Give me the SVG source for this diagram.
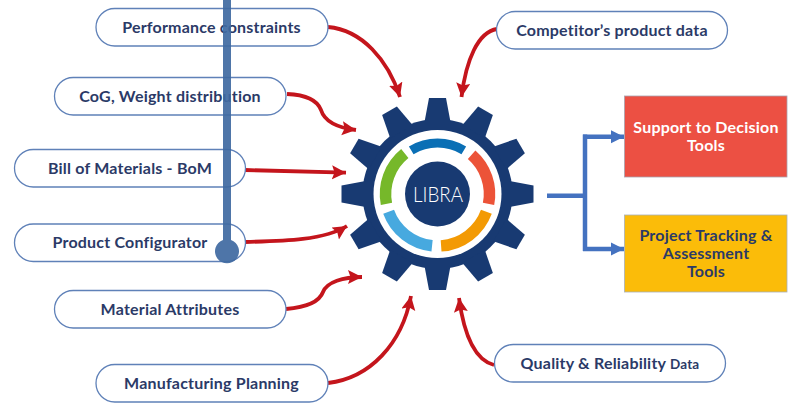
<svg xmlns="http://www.w3.org/2000/svg" width="794" height="404" viewBox="0 0 794 404">
<style>
text{font-family:"Lato","Liberation Sans",sans-serif;font-weight:700;font-size:16px;letter-spacing:.2px;fill:#2b3a67;text-anchor:middle}
.pill{fill:#fff;stroke:#5f81b8;stroke-width:1.3}
.red{fill:none;stroke:#c4151c;stroke-width:3.8;marker-end:url(#ra)}
.blue{fill:none;stroke:#4472c0;stroke-width:4.500}
</style>
<defs>
<marker id="ra" markerUnits="userSpaceOnUse" markerWidth="15" markerHeight="15" refX="14" refY="7" orient="auto"><path d="M0 0L14 7L0 14L2.500 7Z" fill="#c4151c"/></marker>
<marker id="ba" markerUnits="userSpaceOnUse" markerWidth="14" markerHeight="14" refX="13" refY="7" orient="auto"><path d="M0 0.500L13 7L0 13.500Z" fill="#4472c0"/></marker>
<polygon id="tooth" points="-13,-72 -8.500,-96 8.500,-96 13,-72" fill="#183a72"/>
</defs>
<rect width="794" height="404" fill="#fff"/>
<g id="connectors">
<path class="red" d="M328 27C362 30 388 60 400 97"/>
<path class="red" d="M287 94C310 95 318 102 321 110C325 123 340 128 356 130"/>
<path class="red" d="M245 170L346 172.700"/>
<path class="red" d="M245 242C285 241 325 240 347 226"/>
<path class="red" d="M286 309C310 307 320 300 323 292C327 282 343 277 362 277"/>
<path class="red" d="M328 383C370 378 402 344 411 296"/>
<path class="red" d="M494 365C475 360 464 335 459 298"/>
<path class="red" d="M497 29C478 32 466 60 461.500 97"/>
<path class="blue" d="M547 195.700H585"/>
<path class="blue" d="M585 134.500V251"/>
<path class="blue" d="M583 136.700H624" marker-end="url(#ba)"/>
<path class="blue" d="M583 249H624" marker-end="url(#ba)"/>
</g>
<g id="gear">
<circle cx="437.500" cy="194" r="75" fill="#183a72"/>
<g transform="translate(437.500 194)">
<use href="#tooth"/><use href="#tooth" transform="rotate(30)"/><use href="#tooth" transform="rotate(60)"/><use href="#tooth" transform="rotate(90)"/><use href="#tooth" transform="rotate(120)"/><use href="#tooth" transform="rotate(150)"/><use href="#tooth" transform="rotate(180)"/><use href="#tooth" transform="rotate(210)"/><use href="#tooth" transform="rotate(240)"/><use href="#tooth" transform="rotate(270)"/><use href="#tooth" transform="rotate(300)"/><use href="#tooth" transform="rotate(330)"/>
</g>
<circle cx="437.500" cy="194" r="64" fill="#fff"/>
<g transform="translate(437.500 194) rotate(-90)" fill="none" stroke-width="11.500">
<circle r="51" pathLength="360" stroke="#0a6fb5" stroke-width="9" stroke-dasharray="62 298" transform="rotate(-31)"/>
<circle r="52" pathLength="360" stroke="#ec5338" stroke-dasharray="60 300" transform="rotate(41)"/>
<circle r="52" pathLength="360" stroke="#f39a04" stroke-dasharray="66 294" transform="rotate(110)"/>
<circle r="52" pathLength="360" stroke="#47a9df" stroke-dasharray="64 296" transform="rotate(186)"/>
<circle r="52" pathLength="360" stroke="#76b82a" stroke-dasharray="62 298" transform="rotate(259)"/>
</g>
<circle cx="437.500" cy="194" r="32.500" fill="#183a72"/>
<text x="438" y="201.500" textLength="50" lengthAdjust="spacingAndGlyphs" style="font-size:21px;font-weight:300;fill:#fff;letter-spacing:0">LIBRA</text>
</g>
<g id="n1"><rect class="pill" x="96" y="8.500" width="232" height="37.500" rx="18.700"/><text x="211.500" y="32.500">Performance constraints</text></g>
<g id="n2"><rect class="pill" x="54.500" y="77.500" width="231.500" height="37.500" rx="18.700"/><text x="170" y="101.500">CoG, Weight distribution</text></g>
<g id="n3"><rect class="pill" x="14.500" y="149.500" width="231" height="37.500" rx="18.700"/><text x="130" y="173.500">Bill of Materials - BoM</text></g>
<g id="n4"><rect class="pill" x="14.500" y="224" width="231" height="37.500" rx="18.700"/><text x="130" y="248">Product Configurator</text></g>
<g id="n5"><rect class="pill" x="54.500" y="290.500" width="231.500" height="37.500" rx="18.700"/><text x="170" y="315">Material Attributes</text></g>
<g id="n6"><rect class="pill" x="96" y="364.500" width="232" height="37.500" rx="18.700"/><text x="211.500" y="389">Manufacturing Planning</text></g>
<g id="n7"><rect class="pill" x="496.500" y="11.500" width="231" height="37.500" rx="18.700"/><text x="612" y="35.500">Competitor’s product data</text></g>
<g id="n8"><rect class="pill" x="494.500" y="344.500" width="231" height="37.500" rx="18.700"/><text x="610" y="368.500">Quality &amp; Reliability <tspan style="font-size:13.500px">Data</tspan></text></g>
<g id="n9"><rect x="624.500" y="96" width="162.500" height="81" fill="#ec5043" stroke="#a9a3b0" stroke-width=".8"/><text x="706" y="133" style="fill:#fff">Support to Decision</text><text x="706" y="151" style="fill:#fff">Tools</text></g>
<g id="n10"><rect x="624.500" y="215" width="162.500" height="77" fill="#fbbc09" stroke="#a9b0b8" stroke-width=".8"/><text x="706" y="241">Project Tracking &amp;</text><text x="706" y="259">Assessment</text><text x="706" y="277">Tools</text></g>
<g id="bar" fill="#3f69a1" fill-opacity=".92"><path d="M223 0H231V240A12 12 0 1 1 223 240Z"/></g>
</svg>
